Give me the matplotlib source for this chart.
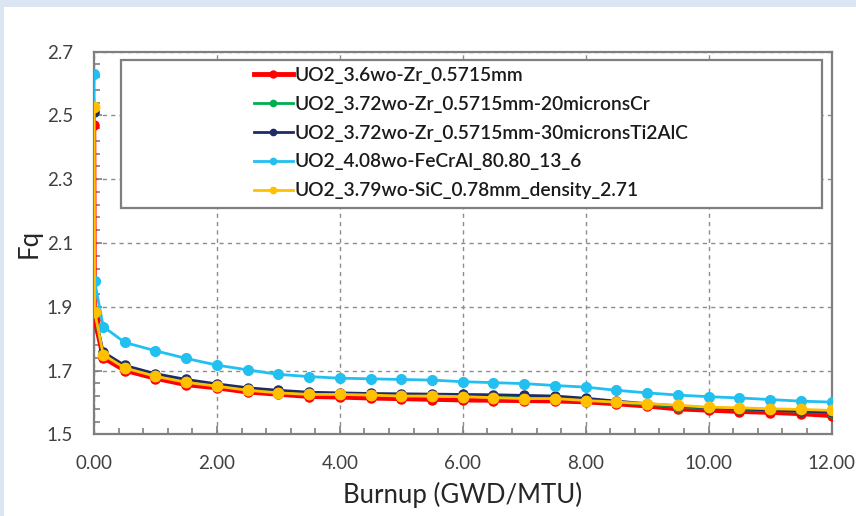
import matplotlib
matplotlib.use("Agg")
import matplotlib.pyplot as plt
import numpy as np
from matplotlib.patches import Rectangle
from matplotlib.lines import Line2D
from matplotlib.ticker import FixedLocator, MultipleLocator, FormatStrFormatter

burnup = [0.0, 0.01, 0.15, 0.5, 1.0, 1.5, 2.0, 2.5, 3.0, 3.5, 4.0, 4.5, 5.0, 5.5,
          6.0, 6.5, 7.0, 7.5, 8.0, 8.5, 9.0, 9.5, 10.0, 10.5, 11.0, 11.5, 12.0]

fq_zr = [2.47, 1.86, 1.740, 1.700, 1.675, 1.655, 1.645, 1.632, 1.625, 1.618, 1.616,
         1.613, 1.611, 1.609, 1.607, 1.606, 1.605, 1.604, 1.601, 1.595, 1.588, 1.579,
         1.575, 1.571, 1.568, 1.564, 1.558]
fq_cr = [2.51, 1.88, 1.752, 1.711, 1.686, 1.667, 1.654, 1.641, 1.634, 1.628, 1.627,
         1.625, 1.623, 1.622, 1.620, 1.618, 1.616, 1.614, 1.608, 1.601, 1.594, 1.587,
         1.582, 1.579, 1.575, 1.572, 1.568]
fq_ti2alc = [2.51, 1.88, 1.758, 1.716, 1.690, 1.672, 1.658, 1.646, 1.638, 1.632, 1.630,
             1.628, 1.627, 1.626, 1.625, 1.624, 1.622, 1.620, 1.613, 1.604, 1.596, 1.589,
             1.583, 1.580, 1.576, 1.573, 1.569]
fq_fecral = [2.63, 1.98, 1.838, 1.788, 1.762, 1.738, 1.717, 1.702, 1.688, 1.681, 1.676,
             1.674, 1.672, 1.670, 1.665, 1.662, 1.659, 1.653, 1.648, 1.638, 1.630, 1.623,
             1.618, 1.614, 1.609, 1.604, 1.601]
fq_sic = [2.525, 1.885, 1.750, 1.708, 1.682, 1.663, 1.651, 1.638, 1.630, 1.625, 1.625,
          1.623, 1.620, 1.620, 1.618, 1.615, 1.612, 1.612, 1.606, 1.601, 1.596, 1.591,
          1.585, 1.583, 1.580, 1.578, 1.575]

labels = ["UO2_3.6wo-Zr_0.5715mm",
          "UO2_3.72wo-Zr_0.5715mm-20micronsCr",
          "UO2_3.72wo-Zr_0.5715mm-30micronsTi2AlC",
          "UO2_4.08wo-FeCrAl_80.80_13_6",
          "UO2_3.79wo-SiC_0.78mm_density_2.71"]
y_ticks = [1.5, 1.7, 1.9, 2.1, 2.3, 2.5, 2.7]
x_ticks = [0, 2, 4, 6, 8, 10, 12]

series = [fq_zr, fq_cr, fq_ti2alc, fq_fecral, fq_sic]
colors = ["#ff0000", "#00b050", "#1f2a66", "#22c0f0", "#ffc000"]
lws = [3.2, 2.0, 2.0, 2.0, 2.0]
mss = [6.5, 6.5, 6.5, 7.0, 7.5]

plt.rcParams['font.family'] = ['Lato', 'DejaVu Sans']

fig = plt.figure(figsize=(8.56, 5.16), dpi=100)
fig.patch.set_facecolor("white")
fig.patches.append(Rectangle((0, 1 - 7 / 516), 1, 7 / 516, transform=fig.transFigure,
                             facecolor="#dce6f2", edgecolor="none", zorder=0))
fig.patches.append(Rectangle((0, 0), 4 / 856, 1, transform=fig.transFigure,
                             facecolor="#dce6f2", edgecolor="none", zorder=0))

ax = fig.add_axes([94 / 856, 1 - 434.3 / 516, 737.5 / 856, (434.3 - 51.7) / 516])

for ys, c, lw, ms, lab in zip(series, colors, lws, mss, labels):
    ax.plot(burnup, ys, color=c, lw=lw, marker="o", ms=ms, mec=c, mfc=c, label=lab,
            zorder=3)

ax.set_xlim(0, 12)
ax.set_ylim(1.5, 2.7)
ax.xaxis.set_major_locator(FixedLocator(x_ticks))
ax.xaxis.set_minor_locator(MultipleLocator(0.4))
ax.yaxis.set_major_locator(FixedLocator(y_ticks))
ax.yaxis.set_minor_locator(FixedLocator(np.arange(1.5, 2.7001, 0.04)))
ax.xaxis.set_major_formatter(FormatStrFormatter("%.2f"))
ax.yaxis.set_major_formatter(FormatStrFormatter("%.1f"))

ax.grid(True, which="major", color="#8c8c8c", linestyle=(0, (3, 3)), linewidth=1.0)
for s in ax.spines.values():
    s.set_color("#7f7f7f")
    s.set_linewidth(1.6)

ax.tick_params(which="both", direction="in", color="#7f7f7f", width=1.2)
ax.tick_params(which="major", length=6)
ax.tick_params(which="minor", length=4)
ax.tick_params(axis="y", which="major", pad=15, labelsize=13.5, labelcolor="#404040")
ax.tick_params(axis="x", which="major", pad=15, labelsize=13.5, labelcolor="#404040")

ax.set_xlabel("Burnup (GWD/MTU)", fontsize=18.5, color="#262626", labelpad=7)
ax.set_ylabel("Fq", fontsize=18.5, color="#262626", labelpad=4)

ax.add_patch(Rectangle((27 / 737.5, (434.3 - 208) / 382.6), 701 / 737.5, 148 / 382.6,
                       transform=ax.transAxes, facecolor="white", edgecolor="#7f7f7f",
                       linewidth=1.6, zorder=4))
handles = [Line2D([0], [0], color=c, lw=lw, marker="o", ms=5 if i == 0 else 4.5, mfc=c, mec=c)
           for i, (c, lw) in enumerate(zip(colors, [3.5, 2, 2, 2, 2]))]
leg = ax.legend(handles, labels, loc="center",
                bbox_to_anchor=((471.5 - 94) / 737.5, (434.3 - 133) / 382.6),
                frameon=False, handlelength=2.0, handletextpad=0.12,
                labelspacing=0.62, borderpad=0.2,
                prop={"weight": "semibold", "size": 13.8})
for t in leg.get_texts():
    t.set_color("#1a1a1a")
leg.set_zorder(5)

fig.savefig("out.png", dpi=100, facecolor=fig.get_facecolor())
